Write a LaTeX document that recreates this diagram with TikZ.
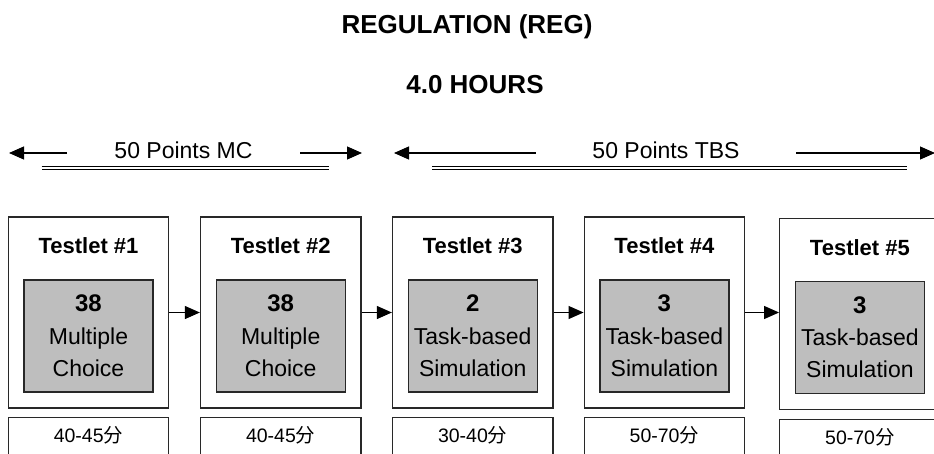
\documentclass[tikz,border=0pt]{standalone}
\usepackage{fontspec}
\setmainfont{Liberation Sans}
\newfontfamily\cjkfont{Noto Sans CJK SC}
\usetikzlibrary{arrows.meta}
\definecolor{cellgray}{RGB}{190,190,190}
\definecolor{edge}{RGB}{40,40,40}
\tikzset{
  outerbox/.style={draw=edge, line width=1.2pt, minimum width=160.5pt, minimum height=191pt, inner sep=0pt},
  innerbox/.style={draw=edge, fill=cellgray, line width=1.2pt, minimum width=129pt, minimum height=112pt, inner sep=0pt},
  timebox/.style={draw=edge, line width=1.2pt, minimum width=160.5pt, minimum height=60pt, inner sep=0pt, anchor=north},
  flow/.style={-{Triangle[length=15pt,width=13pt]}, line width=1.1pt, draw=black},
  span/.style={double=white, double distance=1.5pt, line width=1.2pt, draw=black},
  headtxt/.style={anchor=base, inner sep=0pt, font=\bfseries\fontsize{26}{30}\selectfont},
  pointstxt/.style={anchor=base, inner sep=0pt, font=\fontsize{23}{27}\selectfont},
  titletxt/.style={anchor=base, inner sep=0pt, font=\bfseries\fontsize{22}{26}\selectfont},
  numtxt/.style={anchor=base, inner sep=0pt, font=\bfseries\fontsize{24}{28}\selectfont},
  bodytxt/.style={anchor=base, inner sep=0pt, font=\fontsize{23}{27}\selectfont},
  timetxt/.style={anchor=base, inner sep=0pt, font=\fontsize{19.5}{23}\selectfont},
}
% #1 index, #2 x centre, #3 vertical offset, #4 count, #5 first line, #6 second line, #7 time
\newcommand{\testletcol}[7]{%
  \node[outerbox] (t#1) at (#2,312.5+#3) {};
  \node[innerbox] (g#1) at (#2,336+#3) {};
  \node[titletxt] (h#1) at (#2,253.3+#3) {Testlet \##1};
  \node[numtxt] (n#1) at (#2,311.7+#3) {#4};
  \node[bodytxt] (a#1) at (#2,344+#3) {#5};
  \node[bodytxt] (c#1) at (#2,376+#3) {#6};
  \node[timebox] (b#1) at (#2,416.7+#3) {};
  \node[timetxt] (m#1) at (#2,442.5+#3) {#7{\cjkfont 分}};
}
\begin{document}
\begin{tikzpicture}[x=1pt,y=-1pt]
  \useasboundingbox (0,0) rectangle (934,453);
  \clip (0,0) rectangle (934,453);
  \fill[white] (0,0) rectangle (934,453);

  % headings
  \node[headtxt] (title) at (467,33) {REGULATION (REG)};
  \node[headtxt] (hours) at (475,93) {4.0 HOURS};

  % point spans
  \node[pointstxt] (mc) at (183.5,158.3) {50 Points MC};
  \node[pointstxt] (tbs) at (666,158.3) {50 Points TBS};
  \coordinate (mcL) at (67,153);   \coordinate (mcLtip) at (9,153);
  \coordinate (mcR) at (300,153);  \coordinate (mcRtip) at (362,153);
  \coordinate (tbL) at (535.5,153); \coordinate (tbLtip) at (394,153);
  \coordinate (tbR) at (796,153);  \coordinate (tbRtip) at (935,153);
  \draw[flow] (mcL) -- (mcLtip);
  \draw[flow] (mcR) -- (mcRtip);
  \draw[flow] (tbL) -- (tbLtip);
  \draw[flow] (tbR) -- (tbRtip);
  \coordinate (mcA) at (41.7,168); \coordinate (mcB) at (329,168);
  \coordinate (tbA) at (432,168);  \coordinate (tbB) at (907,168);
  \draw[span] (mcA) -- (mcB);
  \draw[span] (tbA) -- (tbB);

  % testlets
  \testletcol{1}{88.5}{0}{38}{Multiple}{Choice}{40-45}
  \testletcol{2}{280.7}{0}{38}{Multiple}{Choice}{40-45}
  \testletcol{3}{472.7}{0}{2}{Task-based}{Simulation}{30-40}
  \testletcol{4}{664.4}{0}{3}{Task-based}{Simulation}{50-70}
  \testletcol{5}{859.9}{1.8}{3}{Task-based}{Simulation}{50-70}

  % sequence arrows
  \draw[flow] (t1.east) -- (t2.west);
  \draw[flow] (t2.east) -- (t3.west);
  \draw[flow] (t3.east) -- (t4.west);
  \draw[flow] (t4.east) -- (t4.east -| t5.west);
\end{tikzpicture}
\end{document}
